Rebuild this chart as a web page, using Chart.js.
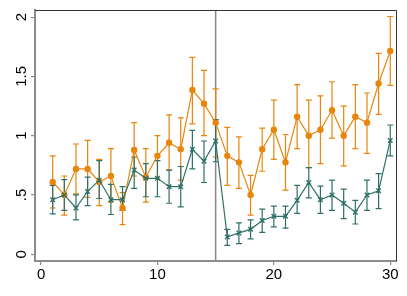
<!DOCTYPE html>
<html>
<head>
<meta charset="utf-8">
<script src="https://cdn.jsdelivr.net/npm/chart.js@4"></script>
<style>
  body { margin: 0; background: #fff; }
  canvas { display: block; }
</style>
</head>
<body>
<canvas id="myChart" width="407" height="296"></canvas>
<script>
var periods = [1, 2, 3, 4, 5, 6, 7, 8, 9, 10, 11, 12, 13, 14, 15,
               16, 17, 18, 19, 20, 21, 22, 23, 24, 25, 26, 27, 28, 29, 30];

var orangeMean = [0.61, 0.50, 0.72, 0.72, 0.61, 0.66, 0.39, 0.88, 0.65, 0.83,
                  0.94, 0.885, 1.385, 1.27, 1.11, 0.83, 0.775, 0.50, 0.885, 1.05,
                  0.775, 1.16, 1.00, 1.05, 1.215, 1.00, 1.16, 1.11, 1.44, 1.715];
var orangeLow  = [0.39, 0.33, 0.51, 0.48, 0.41, 0.44, 0.25, 0.66, 0.44, 0.64,
                  0.71, 0.625, 1.10, 1.00, 0.82, 0.58, 0.555, 0.33, 0.70, 0.80,
                  0.54, 0.89, 0.73, 0.765, 0.98, 0.745, 0.89, 0.85, 1.18, 1.425];
var orangeHigh = [0.83, 0.66, 0.93, 0.96, 0.80, 0.89, 0.52, 1.11, 0.89, 1.00,
                  1.175, 1.15, 1.66, 1.55, 1.395, 1.07, 0.99, 0.665, 1.063, 1.30,
                  1.01, 1.43, 1.30, 1.335, 1.455, 1.25, 1.43, 1.36, 1.695, 2.005];

var tealMean = [0.46, 0.50, 0.39, 0.53, 0.625, 0.46, 0.46, 0.71, 0.64, 0.64,
                0.57, 0.57, 0.885, 0.785, 0.955, 0.145, 0.18, 0.21, 0.285, 0.32,
                0.32, 0.455, 0.605, 0.46, 0.50, 0.43, 0.355, 0.50, 0.535, 0.96];
var tealLow  = [0.34, 0.37, 0.29, 0.41, 0.47, 0.335, 0.37, 0.555, 0.485, 0.485,
                0.43, 0.40, 0.72, 0.605, 0.78, 0.075, 0.09, 0.13, 0.185, 0.23,
                0.22, 0.345, 0.475, 0.345, 0.37, 0.30, 0.255, 0.37, 0.385, 0.83];
var tealHigh = [0.58, 0.63, 0.50, 0.65, 0.79, 0.59, 0.57, 0.82, 0.765, 0.79,
                0.71, 0.74, 1.045, 0.955, 1.135, 0.21, 0.265, 0.29, 0.38, 0.405,
                0.405, 0.58, 0.73, 0.575, 0.625, 0.55, 0.455, 0.625, 0.68, 1.09];

var xTicks = [0, 10, 20, 30];
var yTicks = [0, 0.5, 1, 1.5, 2];
var yTickLabels = ['0', '.5', '1', '1.5', '2'];
var cutoff = 15;

var ORANGE = '#e8850c';
var TEAL = '#2f7068';
var AXIS_GRAY = '#8c8c8c';
var FONT = '"Liberation Sans", Arial, sans-serif';

function toPoints(values) {
  return periods.map(function (p, i) { return { x: p, y: values[i] }; });
}

// error bars, the cutoff line and the outer frame
var extrasPlugin = {
  id: 'extras',
  beforeDatasetsDraw: function (chart) {
    var ctx = chart.ctx;
    var xs = chart.scales.x, ys = chart.scales.y;
    var area = chart.chartArea;

    ctx.save();
    ctx.strokeStyle = '#888';
    ctx.lineWidth = 1.5;
    var cx = xs.getPixelForValue(cutoff);
    ctx.beginPath();
    ctx.moveTo(cx, area.top);
    ctx.lineTo(cx, area.bottom);
    ctx.stroke();

    [[orangeLow, orangeHigh, ORANGE], [tealLow, tealHigh, TEAL]].forEach(function (s) {
      ctx.strokeStyle = s[2];
      ctx.lineWidth = 1.2;
      periods.forEach(function (p, i) {
        var px = xs.getPixelForValue(p);
        var lo = ys.getPixelForValue(s[0][i]);
        var hi = ys.getPixelForValue(s[1][i]);
        ctx.beginPath();
        ctx.moveTo(px, lo); ctx.lineTo(px, hi);
        ctx.moveTo(px - 3, lo); ctx.lineTo(px + 3, lo);
        ctx.moveTo(px - 3, hi); ctx.lineTo(px + 3, hi);
        ctx.stroke();
      });
    });
    ctx.restore();
  },
  afterDraw: function (chart) {
    var ctx = chart.ctx;
    var ys = chart.scales.y;
    var area = chart.chartArea;

    ctx.save();
    ctx.strokeStyle = '#333';
    ctx.lineWidth = 1;
    ctx.beginPath();
    ctx.moveTo(area.left, area.top + 0.5);
    ctx.lineTo(area.right - 0.5, area.top + 0.5);
    ctx.lineTo(area.right - 0.5, area.bottom);
    ctx.stroke();

    // stata style vertical y labels
    ctx.fillStyle = '#000';
    ctx.font = '15px ' + FONT;
    ctx.textAlign = 'center';
    ctx.textBaseline = 'alphabetic';
    yTicks.forEach(function (v, i) {
      ctx.save();
      ctx.translate(26, ys.getPixelForValue(v));
      ctx.rotate(-Math.PI / 2);
      ctx.fillText(yTickLabels[i], 0, 0);
      ctx.restore();
    });
    ctx.restore();
  }
};

new Chart(document.getElementById('myChart'), {
  type: 'line',
  data: {
    datasets: [
      {
        data: toPoints(orangeMean),
        borderColor: ORANGE,
        backgroundColor: ORANGE,
        borderWidth: 1.2,
        pointStyle: 'circle',
        pointRadius: 3.2,
        pointBorderWidth: 0,
        tension: 0,
        order: 1
      },
      {
        data: toPoints(tealMean),
        borderColor: TEAL,
        backgroundColor: TEAL,
        borderWidth: 1.2,
        pointStyle: 'crossRot',
        pointRadius: 3.2,
        pointBorderWidth: 1.4,
        tension: 0,
        order: 0
      }
    ]
  },
  options: {
    responsive: false,
    animation: false,
    layout: { padding: { top: 10, right: 10, left: 0, bottom: 0 } },
    plugins: { legend: { display: false }, tooltip: { enabled: false } },
    scales: {
      x: {
        type: 'linear',
        min: -0.52,
        max: 30.58,
        afterBuildTicks: function (s) { s.ticks = xTicks.map(function (v) { return { value: v }; }); },
        afterFit: function (s) { s.height = 35; },
        grid: { drawOnChartArea: false, color: AXIS_GRAY, tickLength: 4, lineWidth: 1.2 },
        border: { color: AXIS_GRAY, width: 2 },
        ticks: { color: '#000', font: { family: FONT, size: 15 }, padding: 1, maxRotation: 0 }
      },
      y: {
        type: 'linear',
        min: -0.057,
        max: 2.06,
        afterBuildTicks: function (s) { s.ticks = yTicks.map(function (v) { return { value: v }; }); },
        afterFit: function (s) { s.width = 35; },
        grid: { drawOnChartArea: false, color: AXIS_GRAY, tickLength: 4, lineWidth: 1.2 },
        border: { color: AXIS_GRAY, width: 2 },
        ticks: { display: false }
      }
    }
  },
  plugins: [extrasPlugin]
});
</script>
</body>
</html>
